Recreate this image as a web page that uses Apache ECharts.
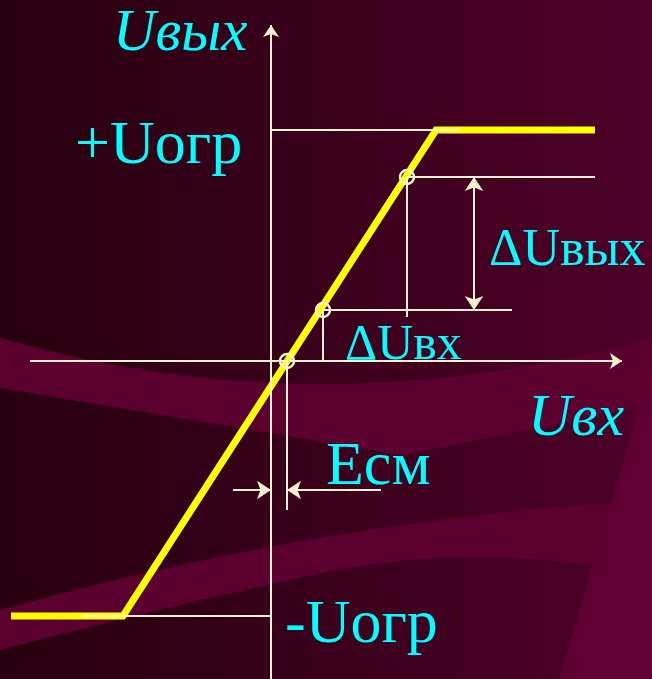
<!DOCTYPE html>
<html>
<head>
<meta charset="utf-8">
<script src="https://cdn.jsdelivr.net/npm/echarts@6/dist/echarts.min.js"></script>
<style>
html, body { margin: 0; padding: 0; }
#chart { width: 652px; height: 679px; }
</style>
</head>
<body>
<div id="chart"></div>
<script>
// transfer characteristic (Uвх -> Uвых), units relative to the axis origin
var uIn = [-260, -148, 165, 324];
var uOut = [-255, -255, 231, 231];

// marked points on the characteristic
var markIn = [16, 52, 136];
var markOut = [0, 51, 184];

// helper lines
var guides = [
    [[0, 231], [188, 231]],      // +Uогр level
    [[-189, -255], [0, -255]],   // -Uогр level
    [[52, 51], [241, 51]],
    [[52, 51], [52, 0]],
    [[136, 184], [324, 184]],
    [[136, 184], [136, 44]],
    [[16, 0], [16, -149]]         // Есм
];
var axes = [
    [[-241, 0], [351, 0]],
    [[0, -318], [0, 336]]
];
var esmArrows = [
    [[-38, -129], [0, -129]],
    [[110, -129], [16, -129]]
];
var dOut = [[203, 51], [203, 184]];

var cream = '#fbf2cf';
var cyan = '#00ffff';
var serif = '"Liberation Serif", "Times New Roman", serif';

function segs(list) {
    return list.map(function (s) { return {coords: s}; });
}

// background swoosh outline: quadratic curve sampled into points
function quad(p0, c, p1) {
    var pts = [];
    for (var i = 0; i <= 24; i++) {
        var t = i / 24, a = (1 - t) * (1 - t), b = 2 * t * (1 - t), d = t * t;
        pts.push([a * p0[0] + b * c[0] + d * p1[0], a * p0[1] + b * c[1] + d * p1[1]]);
    }
    return pts;
}

var bandA = quad([0, 338], [320, 430], [652, 338])
    .concat([[652, 403], [639, 407], [403, 455], [0, 388]]);
var bandB = quad([0, 610], [326, 519], [652, 500])
    .concat(quad([652, 577], [490, 540], [326, 572]))
    .concat(quad([326, 572], [160, 608], [0, 650]));
var stripe = [[648, 378], [652, 378], [652, 679], [559, 679]];

function label(text, x, y, font) {
    return {
        type: 'text', z: 1,
        style: {text: text, x: x, y: y, font: font, fill: cyan,
            textVerticalAlign: 'middle', verticalAlign: 'middle'}
    };
}

var chart = echarts.init(document.getElementById('chart'));

var option = {
    animation: false,
    grid: {left: 0, right: 0, top: 0, bottom: 0},
    xAxis: {type: 'value', min: -271, max: 381, show: false},
    yAxis: {type: 'value', min: -318, max: 361, show: false},
    graphic: {
        elements: [
            {
                type: 'rect', z: -10,
                shape: {x: 0, y: 0, width: 652, height: 679},
                style: {
                    fill: new echarts.graphic.LinearGradient(0, 0, 1, 0, [
                        {offset: 0, color: '#27000f'},
                        {offset: 1, color: '#4e0028'}
                    ])
                }
            },
            {type: 'polygon', z: -9, shape: {points: bandA}, style: {fill: '#5c002f'}},
            {type: 'polygon', z: -9, shape: {points: bandB}, style: {fill: '#5c002f'}},
            {type: 'polygon', z: -9, shape: {points: stripe}, style: {fill: '#5e0032'}},
            label('Uвых', 113, 34, 'italic 59px ' + serif),
            label('+Uогр', 75, 147, '62px ' + serif),
            label('ΔUвых', 489, 251, '52px ' + serif),
            label('ΔUвх', 345, 346, '50px ' + serif),
            label('Uвх', 528, 419, 'italic 60px ' + serif),
            label('Есм', 326, 468, '62px ' + serif),
            label('-Uогр', 285, 626, '62px ' + serif)
        ]
    },
    series: [
        {
            name: 'characteristic',
            type: 'line',
            z: 2,
            data: uIn.map(function (x, i) { return [x, uOut[i]]; }),
            showSymbol: false,
            lineStyle: {color: '#ffff00', width: 7, join: 'miter'}
        },
        {
            name: 'guides',
            type: 'lines',
            coordinateSystem: 'cartesian2d',
            z: 3,
            symbol: 'none',
            lineStyle: {color: cream, width: 2, opacity: 1},
            data: segs(guides)
        },
        {
            name: 'axes',
            type: 'lines',
            coordinateSystem: 'cartesian2d',
            z: 3,
            symbol: ['none', 'arrow'],
            symbolSize: 12,
            lineStyle: {color: cream, width: 2, opacity: 1},
            data: segs(axes)
        },
        {
            name: 'esm',
            type: 'lines',
            coordinateSystem: 'cartesian2d',
            z: 3,
            symbol: ['none', 'arrow'],
            symbolSize: 14,
            lineStyle: {color: cream, width: 2, opacity: 1},
            data: segs(esmArrows)
        },
        {
            name: 'dOut',
            type: 'lines',
            coordinateSystem: 'cartesian2d',
            z: 3,
            symbol: ['arrow', 'arrow'],
            symbolSize: 14,
            lineStyle: {color: cream, width: 2, opacity: 1},
            data: segs([dOut])
        },
        {
            name: 'points',
            type: 'scatter',
            z: 4,
            symbol: 'circle',
            symbolSize: 14,
            itemStyle: {color: 'rgba(0,0,0,0)', borderColor: cream, borderWidth: 2.5, opacity: 1},
            data: markIn.map(function (x, i) { return [x, markOut[i]]; })
        }
    ]
};
chart.setOption(option);
</script>
</body>
</html>
